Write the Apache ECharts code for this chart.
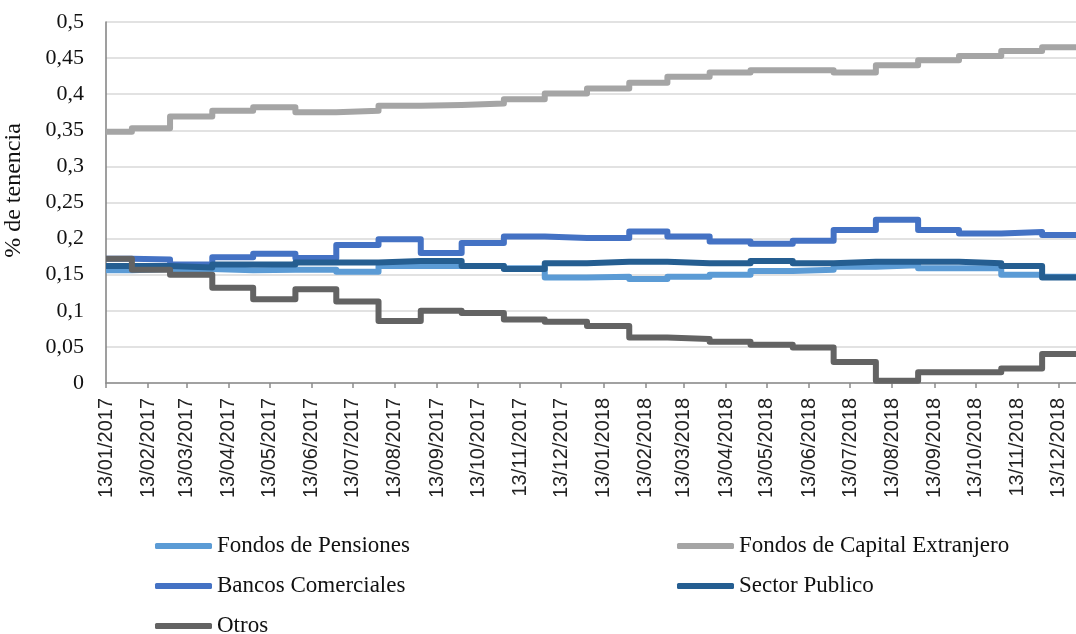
<!DOCTYPE html>
<html>
<head>
<meta charset="utf-8">
<title>% de tenencia</title>
<script src="https://cdn.jsdelivr.net/npm/echarts@6/dist/echarts.min.js"></script>
<style>
  html, body { margin: 0; padding: 0; background: #ffffff; }
  #chart { width: 1076px; height: 634px; }
</style>
</head>
<body>
<div id="chart"></div>
<script>
// Start date of each monthly holding period (the first one starts mid-month)
const periodStarts = [
  '2017-01-13', '2017-02-01', '2017-03-01', '2017-04-01', '2017-05-01', '2017-06-01',
  '2017-07-01', '2017-08-01', '2017-09-01', '2017-10-01', '2017-11-01', '2017-12-01',
  '2018-01-01', '2018-02-01', '2018-03-01', '2018-04-01', '2018-05-01', '2018-06-01',
  '2018-07-01', '2018-08-01', '2018-09-01', '2018-10-01', '2018-11-01', '2018-12-01'
];
const periodEnd = '2018-12-31';

// Dates shown on the horizontal axis
const tickDates = [
  '2017-01-13', '2017-02-13', '2017-03-13', '2017-04-13', '2017-05-13', '2017-06-13',
  '2017-07-13', '2017-08-13', '2017-09-13', '2017-10-13', '2017-11-13', '2017-12-13',
  '2018-01-13', '2018-02-13', '2018-03-13', '2018-04-13', '2018-05-13', '2018-06-13',
  '2018-07-13', '2018-08-13', '2018-09-13', '2018-10-13', '2018-11-13', '2018-12-13'
];

// Share of holdings per holder type, one value per period
const fondosPensiones = [
  0.156, 0.158, 0.158, 0.156, 0.157, 0.157, 0.154, 0.162, 0.162, 0.162, 0.159, 0.146,
  0.147, 0.144, 0.147, 0.150, 0.155, 0.157, 0.161, 0.163, 0.159, 0.159, 0.150, 0.147
];
const fondosCapitalExtranjero = [
  0.348, 0.353, 0.369, 0.377, 0.382, 0.375, 0.377, 0.384, 0.385, 0.387, 0.393, 0.401,
  0.408, 0.416, 0.424, 0.430, 0.433, 0.433, 0.430, 0.440, 0.447, 0.453, 0.460, 0.465
];
const bancosComerciales = [
  0.172, 0.171, 0.164, 0.174, 0.179, 0.173, 0.191, 0.199, 0.180, 0.194, 0.203, 0.201,
  0.201, 0.210, 0.203, 0.196, 0.193, 0.197, 0.212, 0.226, 0.212, 0.207, 0.209, 0.205
];
const sectorPublico = [
  0.162, 0.162, 0.160, 0.164, 0.164, 0.167, 0.167, 0.169, 0.169, 0.162, 0.158, 0.166,
  0.168, 0.168, 0.166, 0.166, 0.169, 0.166, 0.168, 0.168, 0.168, 0.166, 0.162, 0.146
];
const otros = [
  0.172, 0.157, 0.150, 0.132, 0.116, 0.130, 0.113, 0.086, 0.100, 0.097, 0.088, 0.085,
  0.079, 0.063, 0.061, 0.057, 0.053, 0.049, 0.029, 0.003, 0.015, 0.015, 0.020, 0.040
];

const seriesNames = [
  'Fondos de Pensiones', 'Fondos de Capital Extranjero', 'Bancos Comerciales',
  'Sector Publico', 'Otros'
];
const seriesValues = [fondosPensiones, fondosCapitalExtranjero, bancosComerciales, sectorPublico, otros];
const seriesColors = ['#5B9BD5', '#A5A5A5', '#4472C4', '#255E91', '#636363'];

function toTime(s) {
  const p = s.split('-').map(Number);
  return new Date(p[0], p[1] - 1, p[2]).getTime();
}
function pad(n) { return (n < 10 ? '0' : '') + n; }
function dateLabel(v) {
  const d = new Date(v);
  return pad(d.getDate()) + '/' + pad(d.getMonth() + 1) + '/' + d.getFullYear();
}

// Each value holds until the next period starts; the last one runs to the period end
function stepData(values) {
  const pts = periodStarts.map((s, i) => [toTime(s), values[i]]);
  pts.push([toTime(periodEnd), values[values.length - 1]]);
  return pts;
}

const serif = '"Liberation Serif", "Times New Roman", serif';
const sans = '"Liberation Sans", Arial, sans-serif';
const tickTimes = tickDates.map(toTime);

const legendBase = {
  orient: 'vertical',
  top: 534,
  height: 120,
  padding: 0,
  itemWidth: 57,
  itemHeight: 6,
  itemGap: 16,
  icon: 'roundRect',
  textStyle: { fontFamily: serif, fontSize: 23, color: '#111111', lineHeight: 24 }
};

const chart = echarts.init(document.getElementById('chart'), null, { renderer: 'canvas' });

chart.setOption({
  animation: false,
  backgroundColor: '#ffffff',
  grid: { left: 106, top: 22, width: 977, height: 361, outerBoundsMode: 'none' },
  xAxis: {
    // day-proportional date axis, values are timestamps
    type: 'value',
    min: toTime(periodStarts[0]),
    max: toTime(periodEnd),
    axisLine: { show: true, onZero: false, lineStyle: { color: '#8c8c8c', width: 1.5 } },
    axisTick: { show: true, customValues: tickTimes, length: 5, lineStyle: { color: '#8c8c8c', width: 1.5 } },
    axisLabel: {
      customValues: tickTimes,
      formatter: dateLabel,
      rotate: 90,
      margin: 15,
      fontFamily: sans,
      fontSize: 20,
      color: '#222222'
    },
    splitLine: { show: false }
  },
  yAxis: {
    type: 'value',
    min: 0,
    max: 0.5,
    interval: 0.05,
    name: '% de tenencia',
    nameLocation: 'middle',
    nameRotate: 90,
    nameGap: 80,
    nameTextStyle: { fontFamily: serif, fontSize: 24, color: '#111111', padding: [0, 0, 0, 24] },
    axisLine: { show: true, lineStyle: { color: '#7f7f7f', width: 1.5 } },
    axisTick: { show: false },
    axisLabel: {
      margin: 22,
      fontFamily: serif,
      fontSize: 22,
      color: '#111111',
      formatter: v => String(Math.round(v * 100) / 100).replace('.', ',')
    },
    splitLine: { show: true, lineStyle: { color: '#d9d9d9', width: 1.5 } }
  },
  legend: [
    Object.assign({}, legendBase, { left: 155, data: [seriesNames[0], seriesNames[2], seriesNames[4]] }),
    Object.assign({}, legendBase, { left: 677, data: [seriesNames[1], seriesNames[3]] })
  ],
  series: seriesNames.map((name, i) => ({
    name: name,
    type: 'line',
    step: 'end',
    showSymbol: false,
    symbol: 'none',
    data: stepData(seriesValues[i]),
    itemStyle: { color: seriesColors[i] },
    lineStyle: { color: seriesColors[i], width: 6, join: 'round', cap: 'butt' },
    emphasis: { disabled: true }
  }))
});
</script>
</body>
</html>
